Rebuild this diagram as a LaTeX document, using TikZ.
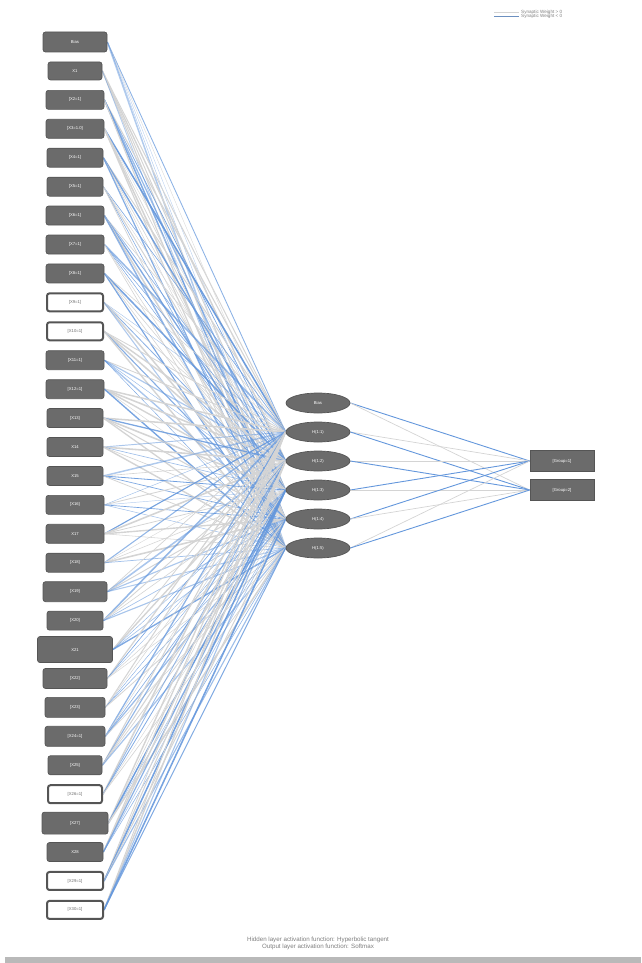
\documentclass[tikz,border=0pt]{standalone}
\usepackage{fontspec}
\setmainfont{Liberation Sans}
\usetikzlibrary{shapes.geometric,backgrounds}
\definecolor{nodegray}{HTML}{6B6B6B}
\definecolor{nodeedge}{HTML}{555555}
\definecolor{posline}{HTML}{D4D4D4}
\definecolor{negline}{HTML}{6497DC}
\definecolor{footgray}{HTML}{7E7E7E}
\tikzset{
  inbox/.style={rectangle, rounded corners=2.5pt, fill=nodegray, draw=nodeedge, line width=0.7pt,
    text=white, font=\fontsize{4.2}{4.2}\selectfont, inner sep=0pt},
  inboxw/.style={rectangle, rounded corners=2.5pt, fill=white, draw=nodeedge, line width=2pt,
    text=nodegray, font=\fontsize{4.2}{4.2}\selectfont, inner sep=0pt},
  hidnode/.style={ellipse, fill=nodegray, draw=nodeedge, line width=0.7pt, text=white,
    font=\fontsize{4.2}{4.2}\selectfont, minimum width=64pt, minimum height=20pt, inner sep=0pt},
  outnode/.style={rectangle, fill=nodegray, draw=nodeedge, line width=0.7pt, text=white,
    font=\fontsize{4.2}{4.2}\selectfont, minimum width=64pt, minimum height=21pt, inner sep=0pt},
  wpos/.style={draw=posline},
  wneg/.style={draw=negline},
  foot/.style={text=footgray, font=\fontsize{6.2}{7.2}\selectfont, align=center},
  legtext/.style={text=footgray, font=\fontsize{4.6}{5}\selectfont, anchor=west, inner sep=0pt}
}
\begin{document}
\begin{tikzpicture}[x=1pt,y=-1pt]
\useasboundingbox (0,0) rectangle (641,963);
% input layer
\foreach \n/\w/\h/\s/\lab in {
 1/64/20/inbox/Bias, 2/54/18/inbox/X1, 3/58/19/inbox/[X2=1], 4/58/19/inbox/[X3=1.0],
 5/56/19/inbox/[X4=1], 6/56/19/inbox/[X5=1], 7/58/19/inbox/[X6=1], 8/58/19/inbox/[X7=1],
 9/58/19/inbox/[X8=1], 10/56/18/inboxw/[X9=1], 11/56/18/inboxw/[X10=1], 12/58/19/inbox/[X11=1],
 13/58/19/inbox/[X12=1], 14/56/19/inbox/[X13], 15/56/19/inbox/X14, 16/56/19/inbox/X15,
 17/58/19/inbox/[X16], 18/58/19/inbox/X17, 19/58/19/inbox/[X18], 20/64/20/inbox/[X19],
 21/56/19/inbox/[X20], 22/75/26/inbox/X21, 23/64/20/inbox/[X22], 24/60/20/inbox/[X23],
 25/60/20/inbox/[X24=1], 26/54/19/inbox/[X25], 27/54/18/inboxw/[X26=1], 28/66/22/inbox/[X27],
 29/56/19/inbox/X28, 30/56/18/inboxw/[X29=1], 31/56/18/inboxw/[X30=1]}
{
  \node[\s, minimum width=\w pt, minimum height=\h pt] (in\n) at (75, {42+(\n-1)*28.93}) {\lab};
}
% hidden layer
\node[hidnode] (h0) at (318,403) {Bias};
\foreach \k in {1,...,5}{
  \node[hidnode] (h\k) at (318,{403+\k*29}) {H(1:\k)};
}
% output layer
\node[outnode] (o1) at (562,461) {[Group=1]};
\node[outnode] (o2) at (562,490) {[Group=2]};
% connections
\begin{scope}[on background layer]
  \pgfmathsetseed{12}
  \foreach \n in {1,...,31}{
    \foreach \k in {1,...,5}{
      \pgfmathrandominteger{\c}{0}{9}
      \pgfmathsetmacro{\lw}{0.3+1.3*rnd}
      \pgfmathsetmacro{\op}{0.45+0.5*rnd}
      \ifnum\c<5
        \draw[wneg, line width=\lw pt, draw opacity=\op] (in\n.east) -- (h\k.west);
      \else
        \draw[wpos, line width=\lw pt] (in\n.east) -- (h\k.west);
      \fi
    }
  }
  \draw[wneg, line width=0.9pt] (h0.east) -- (o1.west);
  \draw[wpos, line width=0.7pt] (h0.east) -- (o2.west);
  \draw[wpos, line width=0.7pt] (h1.east) -- (o1.west);
  \draw[wneg, line width=0.9pt] (h1.east) -- (o2.west);
  \draw[wpos, line width=0.7pt] (h2.east) -- (o1.west);
  \draw[wneg, line width=0.9pt] (h2.east) -- (o2.west);
  \draw[wneg, line width=0.9pt] (h3.east) -- (o1.west);
  \draw[wpos, line width=0.7pt] (h3.east) -- (o2.west);
  \draw[wneg, line width=0.9pt] (h4.east) -- (o1.west);
  \draw[wpos, line width=0.7pt] (h4.east) -- (o2.west);
  \draw[wpos, line width=0.7pt] (h5.east) -- (o1.west);
  \draw[wneg, line width=0.9pt] (h5.east) -- (o2.west);
\end{scope}
% legend
\coordinate (lg1a) at (494,12.5);
\coordinate (lg1b) at (519,12.5);
\coordinate (lg2a) at (494,16.5);
\coordinate (lg2b) at (519,16.5);
\draw[wpos, line width=0.8pt] (lg1a) -- (lg1b);
\draw[negline!70!gray, line width=0.8pt] (lg2a) -- (lg2b);
\node[legtext] (lt1) at (521,12.3) {Synaptic Weight \textgreater{} 0};
\node[legtext] (lt2) at (521,16.7) {Synaptic Weight \textless{} 0};
% footer
\node[foot] (ft) at (318,943.5) {Hidden layer activation function: Hyperbolic tangent\\Output layer activation function: Softmax};
\fill[gray!55] (5,957) rectangle (641,963);
\end{tikzpicture}
\end{document}
